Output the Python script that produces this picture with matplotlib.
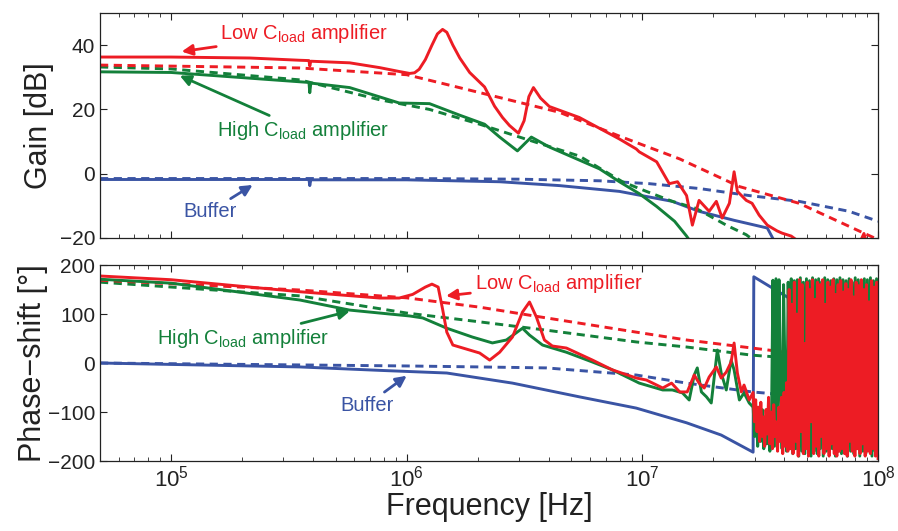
import numpy as np
import matplotlib
matplotlib.use('Agg')
import matplotlib.pyplot as plt
from matplotlib.ticker import LogLocator, NullFormatter

plt.rcParams['font.family'] = ['Liberation Sans', 'DejaVu Sans']
plt.rcParams['mathtext.fontset'] = 'custom'
plt.rcParams['mathtext.rm'] = 'Liberation Sans'
plt.rcParams['mathtext.it'] = 'Liberation Sans'
plt.rcParams['mathtext.default'] = 'regular'

RED = '#ed1c24'
GREEN = '#13803a'
BLUE = '#3a54a4'

# ---------------- gain [dB] ----------------
# low Cload amplifier, measured
f_gain_low = [5.0e4, 1.0e5, 2.16e5, 3.52e5, 3.85e5, 3.88e5, 3.92e5, 5.73e5, 7.69e5, 9.3e5, 1.03e6,
              1.08e6, 1.13e6, 1.2e6, 1.28e6, 1.35e6, 1.42e6, 1.48e6, 1.57e6, 1.68e6, 1.85e6, 2.14e6,
              2.36e6, 2.55e6, 2.73e6, 2.98e6, 3.15e6, 3.3e6, 3.45e6, 3.7e6, 4.03e6, 5.4e6, 7.99e6,
              9.42e6, 9.7e6, 1.15e7, 1.30e7, 1.41e7,
              1.54e7, 1.63e7, 1.74e7, 1.92e7, 2.06e7, 2.18e7, 2.34e7, 2.45e7, 2.53e7, 2.76e7, 2.92e7,
              3.13e7, 3.39e7, 3.73e7, 3.92e7, 4.28e7, 5.0e7, 8.3e7, 8.71e7, 9.0e7, 1.0e8]
g_low = [36.3, 36.3, 36.0, 35.3, 35.2, 33.5, 35.0, 34.5, 33.0, 31.8, 31.2,
         31.4, 32.5, 35.5, 40.0, 43.5, 44.9, 44.0, 40.0, 36.0, 31.5, 27.0,
         21.0, 17.5, 15.0, 12.6, 16.5, 24.0, 26.8, 23.5, 20.9, 17.5, 10.8,
         7.7, 6.8, 3.7, -3.1, -2.5,
         -6.8, -16.0, -8.3, -11.7, -8.6, -13.8, -9.2, 0.6, -5.5, -8.3, -9.2,
         -12.9, -16.0, -17.8, -18.5, -19.4, -23.0, -22.0, -18.6, -22.0, -24.0]
# low Cload amplifier, model
f_gain_low_m = [5.0e4, 3.52e5, 1.0e6, 1.38e6, 2.48e6, 4.45e6, 7.99e6, 1.44e7, 2.58e7, 4.62e7, 8.3e7, 1.0e8]
g_low_m = [33.8, 32.9, 30.8, 28.3, 23.7, 19.1, 11.7, 4.6, -4.0, -9.2, -17.8, -20.5]

# high Cload amplifier, measured
f_gain_high = [5.0e4, 1.0e5, 3.52e5, 3.85e5, 3.88e5, 3.92e5, 5.73e5, 9.3e5, 1.25e6, 1.68e6, 2.14e6,
               2.48e6, 2.95e6, 3.38e6, 4.03e6, 6.58e6, 7.99e6, 9.7e6, 1.15e7, 1.37e7, 1.54e7, 1.7e7]
g_high = [31.7, 31.5, 28.6, 28.4, 25.2, 28.2, 26.8, 22.0, 21.8, 18.2, 15.4,
          11.4, 7.1, 11.4, 8.3, 1.5, -2.5, -6.2, -10.2, -14.8, -19.4, -24.0]
# high Cload amplifier, model
f_gain_high_m = [5.0e4, 1.0e5, 3.52e5, 7.69e5, 1.25e6, 2.04e6, 3.01e6, 5.4e6, 8.23e6, 1.04e7,
                 1.34e7, 1.69e7, 2.27e7, 2.76e7, 3.0e7]
g_high_m = [33.2, 32.6, 29.2, 23.0, 20.0, 15.4, 11.4, 5.5, -2.5, -5.5, -8.6, -10.8, -16.0, -19.0, -21.0]

# buffer, measured
f_gain_buf = [5.0e4, 3.52e5, 3.85e5, 3.88e5, 3.92e5, 1.0e6, 2.48e6, 4.45e6, 7.99e6, 1.34e7,
              1.74e7, 2.45e7, 3.39e7, 3.6e7]
g_buf = [-1.8, -1.8, -1.8, -3.7, -1.9, -1.9, -2.5, -3.7, -5.5, -8.6, -11.7, -14.5, -16.9, -20.5]
# buffer, model
f_gain_buf_m = [5.0e4, 1.0e6, 3.0e6, 6.58e6, 1.07e7, 1.74e7, 2.84e7, 4.62e7, 7.53e7, 1.0e8]
g_buf_m = [-1.5, -1.5, -1.7, -2.2, -3.1, -4.6, -6.8, -8.6, -11.7, -14.8]

# ---------------- phase [deg] ----------------
f_ph_low = [5.0e4, 1.0e5, 3.52e5, 7.69e5, 9.3e5, 1.06e6, 1.2e6, 1.28e6, 1.36e6, 1.42e6, 1.48e6, 1.57e6,
            1.79e6, 2.04e6, 2.25e6, 2.48e6, 2.81e6, 3.1e6, 3.32e6, 3.55e6, 3.84e6, 4.15e6, 4.76e6,
            6.14e6, 7.46e6, 9.42e6, 1.04e7, 1.22e7, 1.33e7, 1.44e7, 1.55e7, 1.66e7, 1.74e7, 1.83e7,
            1.92e7, 2.06e7, 2.16e7, 2.27e7, 2.38e7, 2.45e7, 2.53e7, 2.63e7, 2.70e7, 2.84e7]
ph_low = [177.6, 170, 145.5, 132.6, 132.6, 140, 155, 161, 155, 110, 63, 36.7,
          28.6, 20.4, 6, 22, 53, 104, 124.5, 94, 47, 34.7, 30.6,
          6, -14, -30.6, -34.7, -51, -41, -59, -59, -24.5, -41, -51,
          -28.6, -8, -30.6, -18.4, 2, 40.8, -20.4, -59, -45, -75.5]
# noisy part from ~3e7 Hz up to 1e8 Hz
ph_low_tail = [-60, -120, -75, -140, -90, -160, -80, -150, -110, -170, -95, -145, -70, -165,
               -100, -175, -85, -150, -120, -180, -90, -160, -70, -185, -60, -170, -40, -180,
               150, -175, 120, -185, 165, -160, 100, -190, 170, -140, 160, -185, 40, -175,
               165, -190, 150, -120, 170, -185, 130, -170, 165, -190, 160, -150, 170, -185,
               120, -175, 165, -190, 155, -165, 170, -185, 140, -190, 160, -180, 168, -175,
               145, -185, 162, -190, 150, -160, 170, -180, 135, -190, 165, -175, 158, -185,
               170, -165, 150, -190, 160, -180, 125, -185, 168, -175, 155, -190, 165, -195]
f_ph_low_m = [5.0e4, 3.52e5, 1.0e6, 2.04e6, 3.92e6, 9.42e6, 1.54e7, 2.92e7, 4.32e7, 1.0e8]
ph_low_m = [169, 149, 133, 114, 92, 63, 47, 30.6, 20.4, 8]

f_ph_high = [5.0e4, 1.0e5, 3.52e5, 5.73e5, 1.03e6, 1.17e6, 1.48e6, 1.9e6, 2.31e6, 2.65e6, 3.1e6,
             3.32e6, 3.77e6, 4.76e6, 6.14e6, 7.46e6, 9.7e6, 1.22e7, 1.34e7, 1.48e7, 1.58e7, 1.66e7,
             1.71e7, 1.78e7, 1.87e7, 1.96e7, 2.08e7, 2.16e7, 2.27e7, 2.38e7, 2.45e7, 2.58e7, 2.70e7,
             2.84e7]
ph_high = [171, 163, 128.6, 108, 96, 92, 71, 53, 41, 47, 71,
           57, 36.7, 22, 2, -14, -41, -55, -55, -61, -75.5, -24.5,
           -10, -59, -69, -81.6, 26.5, -20.4, -55, 6, -14, -75.5, -61,
           -81.6]
ph_high_tail = [-90, -150, -100, -170, -110, -160, -95, -175, -120, -165, -105, -180, -140,
                169, -170, 172, -150, 170, -60, -175, 160, -40, -180, 165, -120, 172, -185,
                168, -175, 170, -190, 174, -180, 165, -185, 172, -175, 168, -190, 174, -180,
                170, -185, 172, -175, 166, -190, 174, -180, 170, -185, 168, -175, 172, -190,
                170, -180, 174, -185, 170, -175, 168, -190, 172, -180, 165, -185, 174, -175,
                170, -190, 166, -180, 172, -185, 170, -175, 174, -190, 168, -180, 172, -185]
f_ph_high_m = [5.0e4, 3.52e5, 1.0e6, 2.04e6, 3.92e6, 9.42e6, 1.54e7, 2.92e7, 4.32e7, 1.0e8]
ph_high_m = [165, 137, 102, 84, 67, 43, 32.7, 16, 10, 0]

f_ph_buf = [5.0e4, 3.52e5, 7.69e5, 1.48e6, 2.81e6, 5.4e6, 9.42e6, 1.54e7, 2.16e7, 2.95e7, 2.97e7,
            4.32e7, 1.0e8]
ph_buf = [0, -8, -15, -20.4, -41, -69, -92, -122, -147, -182, 176, 128.6, 50]
f_ph_buf_m = [5.0e4, 1.0e6, 2.04e6, 3.92e6, 9.42e6, 1.54e7, 2.92e7, 4.07e7, 1.0e8]
ph_buf_m = [0, -6, -8, -10, -24.5, -41, -59, -65, -80]

fig = plt.figure(figsize=(8.98, 5.31), dpi=100)
ax1 = fig.add_axes([0.1114, 0.5518, 0.8664, 0.4237])
ax2 = fig.add_axes([0.1114, 0.1318, 0.8664, 0.3691])

lw = 2.1
dash = (0, (2.8, 1.9))

ax1.plot(f_gain_buf_m, g_buf_m, color=BLUE, lw=lw, ls=dash)
ax1.plot(f_gain_buf, g_buf, color=BLUE, lw=lw)
ax1.plot(f_gain_high_m, g_high_m, color=GREEN, lw=lw, ls=dash)
ax1.plot(f_gain_high, g_high, color=GREEN, lw=lw)
ax1.plot(f_gain_low_m, g_low_m, color=RED, lw=lw, ls=dash)
ax1.plot(f_gain_low, g_low, color=RED, lw=lw)

f_tail_high = np.geomspace(2.95e7, 1.0e8, len(ph_high_tail))
f_tail_low = np.geomspace(2.95e7, 1.0e8, len(ph_low_tail))
ax2.plot(f_ph_buf_m, ph_buf_m, color=BLUE, lw=lw, ls=dash)
ax2.plot(f_ph_buf, ph_buf, color=BLUE, lw=lw)
ax2.plot(f_ph_high_m, ph_high_m, color=GREEN, lw=lw, ls=dash)
ax2.plot(f_ph_low_m, ph_low_m, color=RED, lw=lw, ls=dash)
ax2.plot(list(f_ph_high) + list(f_tail_high), ph_high + ph_high_tail, color=GREEN, lw=lw)
ax2.plot(list(f_ph_low) + list(f_tail_low), ph_low + ph_low_tail, color=RED, lw=lw)

for ax in (ax1, ax2):
    ax.set_xscale('log')
    ax.set_xlim(5e4, 1e8)
    ax.tick_params(which='both', direction='in', top=True, right=True, labelsize=15,
                   colors='#222222')
    ax.tick_params(which='major', length=5)
    ax.tick_params(which='minor', length=3)
    ax.tick_params(axis='x', labelsize=16)
    ax.xaxis.set_major_locator(LogLocator(base=10, numticks=10))
    ax.xaxis.set_minor_locator(LogLocator(base=10, subs=np.arange(2, 10), numticks=20))
    ax.xaxis.set_minor_formatter(NullFormatter())
    for s in ax.spines.values():
        s.set_linewidth(0.9)
        s.set_color('#222222')

ax1.set_ylim(-20, 50)
ax1.set_yticks([-20, 0, 20, 40])
ax1.tick_params(labelbottom=False)
ax1.set_ylabel('Gain [dB]', fontsize=22, color='#222222', labelpad=4)

ax2.set_ylim(-200, 200)
ax2.set_yticks([-200, -100, 0, 100, 200])
ax2.set_ylabel('Phase\u2212shift [\u00b0]', fontsize=22, color='#222222', labelpad=0)
ax2.set_xlabel('Frequency [Hz]', fontsize=22, color='#222222', labelpad=0)

lab = 'C$_{load}$'
fs = 14.5
arr = dict(arrowstyle='-|>', lw=2.0, mutation_scale=16, shrinkA=1, shrinkB=0)

ax1.annotate('Low ' + lab + ' amplifier', xy=(1.11e5, 38.0), xytext=(1.62e5, 43.5),
             color=RED, fontsize=fs, va='center', ha='left',
             arrowprops=dict(color=RED, **arr))
ax1.annotate('High ' + lab + ' amplifier', xy=(1.09e5, 30.5), xytext=(1.56e5, 13.5),
             color=GREEN, fontsize=fs, va='center', ha='left',
             arrowprops=dict(color=GREEN, **arr))
ax1.annotate('Buffer', xy=(2.22e5, -3.5), xytext=(1.46e5, -11.8),
             color=BLUE, fontsize=fs, va='center', ha='center',
             arrowprops=dict(color=BLUE, **arr))

ax2.annotate('Low ' + lab + ' amplifier', xy=(1.47e6, 137), xytext=(1.94e6, 163),
             color=RED, fontsize=fs, va='center', ha='left',
             arrowprops=dict(color=RED, **arr))
ax2.annotate('High ' + lab + ' amplifier', xy=(5.74e5, 106), xytext=(4.7e5, 51),
             color=GREEN, fontsize=fs, va='center', ha='right',
             arrowprops=dict(color=GREEN, **arr))
ax2.annotate('Buffer', xy=(1.0e6, -26), xytext=(6.76e5, -86),
             color=BLUE, fontsize=fs, va='center', ha='center',
             arrowprops=dict(color=BLUE, **arr))

fig.savefig('out.png', dpi=100)
